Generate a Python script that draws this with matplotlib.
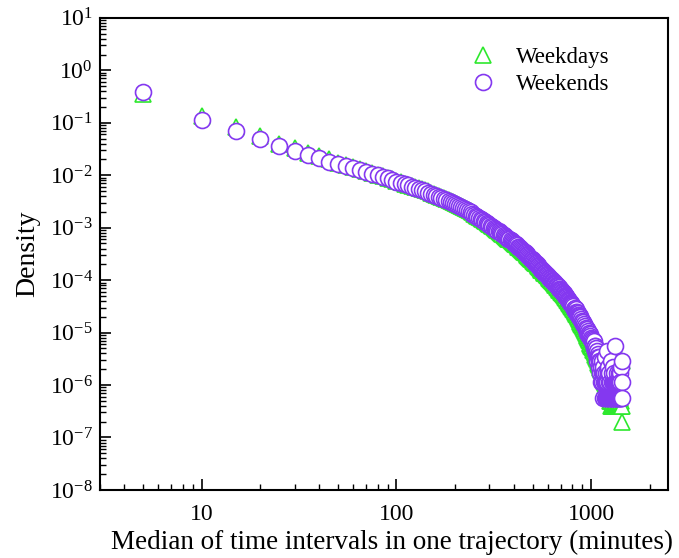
import numpy as np
import matplotlib
matplotlib.use("Agg")
import matplotlib.pyplot as plt
from matplotlib import ticker

plt.rcParams['font.family'] = ['Liberation Serif', 'DejaVu Serif']
plt.rcParams['mathtext.fontset'] = 'custom'
plt.rcParams['mathtext.rm'] = 'Liberation Serif'
plt.rcParams['mathtext.it'] = 'Liberation Serif:italic'

# median interval bins (minutes), 5-minute resolution over one day
minutes = np.arange(5, 1445, 5)

# log10(density), one row per hour of bins
weekdays_log = [
    -0.45, -0.87, -1.09, -1.25, -1.40, -1.49, -1.57, -1.64, -1.70, -1.76, -1.81, -1.85,
    -1.89, -1.92, -1.96, -1.99, -2.02, -2.05, -2.08, -2.11, -2.13, -2.16, -2.18, -2.21,
    -2.22, -2.24, -2.26, -2.29, -2.31, -2.33, -2.35, -2.37, -2.39, -2.41, -2.43, -2.45,
    -2.47, -2.49, -2.51, -2.53, -2.55, -2.57, -2.59, -2.61, -2.63, -2.65, -2.67, -2.69,
    -2.71, -2.73, -2.75, -2.77, -2.79, -2.81, -2.83, -2.85, -2.87, -2.89, -2.91, -2.93,
    -2.95, -2.97, -2.99, -3.01, -3.03, -3.05, -3.06, -3.08, -3.10, -3.12, -3.14, -3.15,
    -3.17, -3.19, -3.21, -3.22, -3.24, -3.26, -3.27, -3.29, -3.31, -3.32, -3.34, -3.36,
    -3.37, -3.39, -3.41, -3.42, -3.44, -3.46, -3.47, -3.49, -3.51, -3.52, -3.54, -3.56,
    -3.57, -3.59, -3.60, -3.62, -3.64, -3.65, -3.67, -3.68, -3.70, -3.72, -3.73, -3.75,
    -3.77, -3.78, -3.80, -3.81, -3.83, -3.84, -3.86, -3.87, -3.88, -3.90, -3.91, -3.93,
    -3.94, -3.96, -3.97, -3.99, -4.00, -4.02, -4.03, -4.05, -4.06, -4.07, -4.09, -4.10,
    -4.12, -4.13, -4.15, -4.16, -4.18, -4.19, -4.20, -4.22, -4.23, -4.25, -4.26, -4.28,
    -4.29, -4.31, -4.32, -4.34, -4.35, -4.37, -4.38, -4.40, -4.42, -4.43, -4.45, -4.46,
    -4.48, -4.49, -4.51, -4.52, -4.54, -4.56, -4.57, -4.59, -4.61, -4.62, -4.64, -4.65,
    -4.67, -4.69, -4.70, -4.72, -4.74, -4.76, -4.77, -4.79, -4.81, -4.83, -4.85, -4.86,
    -4.88, -4.90, -4.92, -4.94, -4.96, -4.97, -4.99, -5.01, -5.03, -5.05, -5.07, -5.09,
    -5.11, -5.13, -5.15, -5.17, -5.19, -5.21, -5.23, -5.25, -5.27, -5.26, -5.30, -5.29,
    -5.33, -5.31, -5.36, -5.39, -5.37, -5.43, -5.41, -5.47, -5.45, -5.51, -5.49, -5.55,
    -5.58, -5.55, -5.62, -5.60, -5.65, -5.68, -5.64, -5.72, -5.70, -5.77, -5.74, -5.82,
    -5.80, -5.87, -5.84, -5.92, -5.89, -5.97, -5.94, -6.02, -5.98, -6.07, -6.02, -5.62,
    -6.10, -6.05, -6.15, -6.10, -6.22, -6.15, -6.25, -6.20, -6.30, -6.25, -6.40, -6.22,
    -6.30, -6.40, -6.25, -6.40, -6.30, -6.22, -6.40, -6.30, -6.40, -6.25, -6.40, -6.30,
    -6.40, -6.22, -6.40, -6.30, -6.40, -6.25, -6.40, -6.40, -6.30, -6.40, -6.22, -6.40,
    -6.30, -6.40, -6.40, -6.25, -6.40, -6.40, -6.30, -6.40, -6.40, -6.70, -6.40, -5.55,
]

weekends_log = [
    -0.42, -0.95, -1.16, -1.31, -1.45, -1.54, -1.62, -1.68, -1.74, -1.79, -1.83, -1.87,
    -1.91, -1.94, -1.97, -2.00, -2.03, -2.06, -2.09, -2.12, -2.14, -2.17, -2.19, -2.22,
    -2.24, -2.26, -2.28, -2.31, -2.33, -2.35, -2.37, -2.39, -2.41, -2.43, -2.45, -2.47,
    -2.49, -2.51, -2.53, -2.55, -2.57, -2.59, -2.61, -2.63, -2.65, -2.67, -2.69, -2.71,
    -2.73, -2.75, -2.77, -2.79, -2.81, -2.83, -2.85, -2.87, -2.89, -2.91, -2.93, -2.95,
    -2.97, -2.99, -3.00, -3.02, -3.04, -3.06, -3.07, -3.09, -3.11, -3.12, -3.14, -3.16,
    -3.17, -3.19, -3.21, -3.22, -3.24, -3.26, -3.27, -3.29, -3.31, -3.32, -3.34, -3.36,
    -3.37, -3.39, -3.41, -3.42, -3.44, -3.46, -3.47, -3.49, -3.51, -3.52, -3.54, -3.56,
    -3.57, -3.59, -3.60, -3.62, -3.64, -3.65, -3.67, -3.68, -3.70, -3.72, -3.73, -3.75,
    -3.77, -3.78, -3.80, -3.81, -3.83, -3.84, -3.86, -3.87, -3.88, -3.90, -3.91, -3.93,
    -3.94, -3.96, -3.97, -3.98, -4.00, -4.01, -4.02, -4.04, -4.05, -4.06, -4.08, -4.09,
    -4.10, -4.12, -4.13, -4.14, -4.16, -4.17, -4.18, -4.19, -4.21, -4.22, -4.24, -4.25,
    -4.27, -4.28, -4.30, -4.31, -4.33, -4.34, -4.36, -4.37, -4.39, -4.40, -4.42, -4.43,
    -4.44, -4.46, -4.47, -4.48, -4.52, -4.50, -4.55, -4.53, -4.58, -4.56, -4.61, -4.60,
    -4.64, -4.62, -4.67, -4.66, -4.70, -4.68, -4.73, -4.71, -4.76, -4.74, -4.80, -4.78,
    -4.83, -4.80, -4.86, -4.84, -4.90, -4.87, -4.93, -4.91, -4.97, -4.94, -5.00, -4.97,
    -5.04, -5.01, -5.07, -5.03, -5.10, -5.06, -5.13, -5.10, -5.16, -5.12, -5.20, -5.15,
    -5.21, -5.17, -5.30, -5.25, -5.35, -5.25, -5.40, -5.30, -5.47, -5.35, -5.55, -5.40,
    -5.47, -5.65, -5.47, -5.55, -5.77, -5.55, -5.65, -5.95, -5.65, -5.77, -5.55, -5.95,
    -5.77, -6.25, -5.65, -5.95, -5.77, -6.25, -5.95, -5.47, -6.25, -5.77, -5.95, -5.35,
    -6.25, -5.95, -5.77, -6.25, -5.65, -5.95, -6.25, -5.77, -6.25, -5.95, -6.25, -5.55,
    -6.25, -5.95, -6.25, -5.77, -6.25, -5.95, -6.25, -5.65, -5.95, -6.25, -5.77, -6.25,
    -5.95, -5.25, -6.25, -5.95, -6.25, -5.77, -6.25, -5.95, -6.25, -5.95, -6.25, -5.77,
    -6.25, -5.95, -6.25, -5.77, -6.25, -5.95, -6.25, -5.65, -6.25, -5.95, -6.25, -5.55,
]

weekdays = 10.0 ** np.array(weekdays_log)
weekends = 10.0 ** np.array(weekends_log)

green = '#2ee82e'
purple = '#8438f0'

fig = plt.figure(figsize=(6.79, 5.58), dpi=100)
ax = fig.add_axes([0.147, 0.122, 0.837, 0.846])

ax.plot(minutes, weekdays, linestyle='none', marker='^', ms=11.5,
        mfc='white', mec=green, mew=1.2, label='Weekdays')
ax.plot(minutes, weekends, linestyle='none', marker='o', ms=11.5,
        mfc='white', mec=purple, mew=1.2, label='Weekends')

ax.set_xscale('log')
ax.set_yscale('log')
ax.set_xlim(3, 2480)
ax.set_ylim(1e-8, 10)

ax.xaxis.set_major_locator(ticker.FixedLocator([10, 100, 1000]))
ax.xaxis.set_major_formatter(ticker.FuncFormatter(lambda v, p: f'{v:g}'))
ax.xaxis.set_minor_locator(ticker.LogLocator(base=10, subs=np.arange(2, 10), numticks=50))
ax.yaxis.set_major_locator(ticker.LogLocator(base=10, numticks=20))
ax.yaxis.set_minor_locator(ticker.LogLocator(base=10, subs=np.arange(2, 10), numticks=50))
ax.xaxis.set_minor_formatter(ticker.NullFormatter())
ax.yaxis.set_minor_formatter(ticker.NullFormatter())

ax.tick_params(which='both', direction='in', top=False, right=False, labelsize=17)
ax.tick_params(which='major', length=8, width=1.2)
ax.tick_params(which='minor', length=4, width=1.0)
ax.tick_params(axis='x', pad=10)
ax.tick_params(axis='y', pad=5)
for s in ax.spines.values():
    s.set_linewidth(1.5)

ax.set_xlabel('Median of time intervals in one trajectory (minutes)', fontsize=19.5)
ax.xaxis.set_label_coords(0.515, -0.085)
ax.set_ylabel('Density', fontsize=20)
ax.yaxis.set_label_coords(-0.105, 0.5)

ax.legend(loc='upper right', bbox_to_anchor=(0.925, 0.972), frameon=False,
          fontsize=16.5, handlelength=1.4, handletextpad=0.75,
          labelspacing=0.25, borderpad=0.2)

fig.savefig('out.png', dpi=100)
